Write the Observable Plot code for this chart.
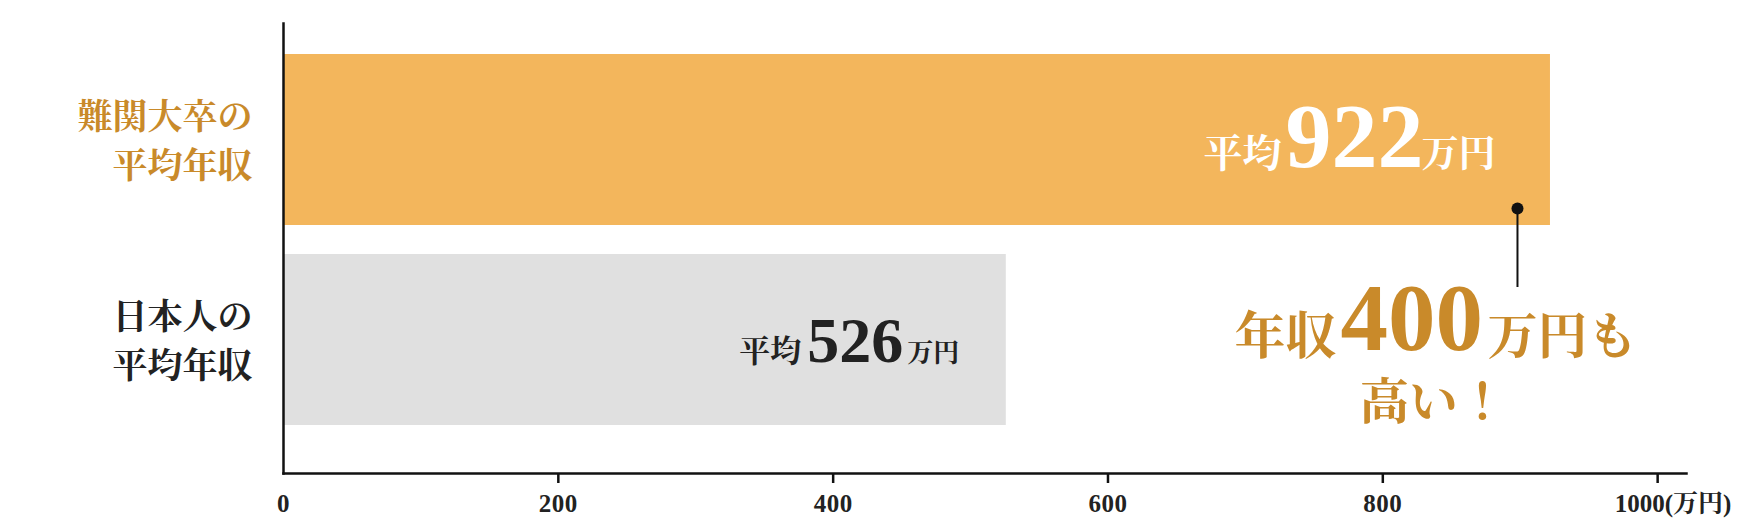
<!DOCTYPE html>
<html><head><meta charset="utf-8">
<script src="https://cdn.jsdelivr.net/npm/d3@7"></script>
<script src="https://cdn.jsdelivr.net/npm/@observablehq/plot@0.6"></script>
<style>
html,body{margin:0;padding:0;background:#fff}
#chart svg{display:block}
#chart g[aria-label="x-axis tick label"] text,
#chart g[aria-label="x-axis tick label"]{font-size:25px;font-weight:700;fill:#222;letter-spacing:0.5px}
</style>
</head><body><div id="chart"></div>
<script>
// ---- data ----
const categories = ["難関大卒の\n平均年収", "日本人の\n平均年収"];
const values = [922, 526];
const barColors = ["#F3B65C", "#E0E0E0"];
const labelColors = ["#C98A2A", "#222222"];
const valueColors = ["#FFFFFF", "#222222"];
const xTicks = [0, 200, 400, 600, 800, 1000];
const xUnit = "(万円)";
const valuePrefix = "平均";
const valueSuffix = "万円";
const calloutX = 898;
const calloutLine1 = ["年収", "400", "万円も"];
const calloutLine2 = ["高い！"];
const gold = "#C98A2A";

const rows = categories.map((c, i) => ({category: c, value: values[i]}));
const FONT = "'Liberation Serif','Noto Serif CJK JP','Noto Sans CJK JP',serif";
const lastTick = xTicks[xTicks.length - 1];

// per-row label styling (layout, not data)
const valueLayout = [
  {pre: 39, num: 92, suf: 37, dxPre: -269, dxNum: -127, dxSuf: -55, dy: 26.5},
  {pre: 31, num: 64, suf: 26, dxPre: -205, dxNum: -103, dxSuf: -47, dy: 21.5}
];

const marks = [];
rows.forEach((row, i) => {
  const L = valueLayout[i];
  marks.push(Plot.barX([row], {x: "value", y: "category", fill: barColors[i]}));
  marks.push(Plot.text([row], {
    y: "category", text: "category", frameAnchor: "left", dx: -31, dy: -2,
    textAnchor: "end", fill: labelColors[i], fontSize: 35, fontWeight: 700, lineHeight: 1.4
  }));
  marks.push(Plot.text([row], {x: "value", y: "category", text: () => valuePrefix,
    textAnchor: "end", lineAnchor: "bottom", dx: L.dxPre, dy: L.dy, fontSize: L.pre, fontWeight: 700, fill: valueColors[i]}));
  marks.push(Plot.text([row], {x: "value", y: "category", text: d => String(d.value),
    textAnchor: "end", lineAnchor: "bottom", dx: L.dxNum, dy: L.dy, fontSize: L.num, fontWeight: 700, fill: valueColors[i]}));
  marks.push(Plot.text([row], {x: "value", y: "category", text: () => valueSuffix,
    textAnchor: "end", lineAnchor: "bottom", dx: L.dxSuf, dy: L.dy, fontSize: L.suf, fontWeight: 700, fill: valueColors[i]}));
});

// axes
marks.push(Plot.frame({anchor: "left", stroke: "#111", strokeWidth: 2.5}));
marks.push(Plot.frame({anchor: "bottom", stroke: "#111", strokeWidth: 2.5}));
marks.push(Plot.axisX(xTicks.filter(d => d > 0), {tickSize: 10, tickFormat: () => "", label: null, stroke: "#111", strokeWidth: 2.5}));
marks.push(Plot.axisX(xTicks.filter(d => d !== lastTick), {tickSize: 0, tickPadding: 21, label: null,
  tickFormat: d => String(d), fontSize: 25, fontWeight: 700, fill: "#222"}));
marks.push(Plot.text([lastTick], {x: d => d, text: d => d + xUnit, frameAnchor: "bottom",
  textAnchor: "start", lineAnchor: "top", dx: -43, dy: 21, fontSize: 25, fontWeight: 700, fill: "#222"}));

// callout
marks.push(Plot.ruleX([calloutX], {x: d => d, insetTop: 185, insetBottom: 186, stroke: "#111", strokeWidth: 2}));
marks.push(Plot.dot([calloutX], {x: d => d, y: () => categories[0], dy: 68.5, r: 6, fill: "#111", stroke: null}));
marks.push(Plot.text([calloutLine1[0]], {x: () => calloutX, y: () => categories[1], text: d => d,
  textAnchor: "end", lineAnchor: "bottom", dx: -181, dy: 14, fontSize: 51, fontWeight: 700, fill: gold}));
marks.push(Plot.text([calloutLine1[1]], {x: () => calloutX, y: () => categories[1], text: d => d,
  textAnchor: "start", lineAnchor: "bottom", dx: -177, dy: 10, fontSize: 95, fontWeight: 700, fill: gold}));
marks.push(Plot.text([calloutLine1[2]], {x: () => calloutX, y: () => categories[1], text: d => d,
  textAnchor: "start", lineAnchor: "bottom", dx: -30, dy: 14, fontSize: 50, fontWeight: 700, fill: gold}));
marks.push(Plot.text(calloutLine2, {x: () => calloutX, y: () => categories[1], text: d => d,
  textAnchor: "middle", lineAnchor: "bottom", dx: -84, dy: 79, fontSize: 49, fontWeight: 700, fill: gold}));

const chart = Plot.plot({
  width: 1754, height: 530,
  marginLeft: 283, marginRight: 68, marginTop: 23, marginBottom: 57,
  x: {domain: [0, 1021], axis: null, label: null},
  y: {domain: categories, range: [39.5, 439.5], paddingInner: 0.145, paddingOuter: 0.0725, round: false, axis: null, label: null},
  style: {fontFamily: FONT, background: "#fff", color: "#222", fontSize: "22px"},
  marks
});
document.getElementById("chart").append(chart);
</script>
</body></html>
